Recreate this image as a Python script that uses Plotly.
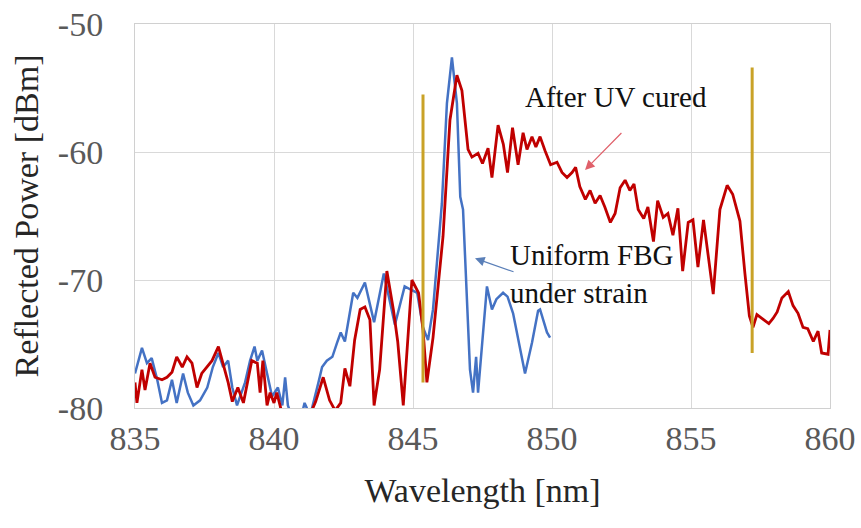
import plotly.graph_objects as go

# ---- data ----
red_wl = [835.0, 835.07, 835.25, 835.36, 835.54, 835.72, 835.97, 836.15, 836.33, 836.5,
          836.7, 836.87, 837.05, 837.23, 837.4, 837.6, 837.77, 838.0, 838.17, 838.35,
          838.5, 838.7, 838.9, 839.07, 839.2, 839.4, 839.5, 839.6, 839.75, 839.86,
          840.0, 840.1, 840.3, 840.8, 841.3, 841.5, 841.77, 842.0, 842.2, 842.4,
          842.55, 842.73, 842.9, 843.1, 843.27, 843.45, 843.6, 843.8, 844.06, 844.3,
          844.45, 844.65, 844.96, 845.2, 845.36, 845.5, 845.72, 846.08, 846.33, 846.58,
          846.76, 846.98, 847.12, 847.34, 847.5, 847.7, 847.84, 848.06, 848.25, 848.4,
          848.58, 848.78, 848.96, 849.1, 849.28, 849.42, 849.57, 849.75, 849.95, 850.18,
          850.36, 850.54, 850.72, 850.85, 851.0, 851.2, 851.37, 851.55, 851.73, 851.9,
          852.1, 852.27, 852.45, 852.63, 852.8, 852.95, 853.1, 853.3, 853.45, 853.65,
          853.8, 854.0, 854.17, 854.35, 854.53, 854.7, 854.9, 855.07, 855.25, 855.45,
          855.8, 856.04, 856.3, 856.5, 856.76, 856.94, 857.1, 857.23, 857.37, 857.55,
          857.8, 857.95, 858.1, 858.27, 858.5, 858.67, 858.85, 859.03, 859.2, 859.4,
          859.57, 859.7, 859.93, 860.0]
red_dbm = [-78.0, -79.6, -77.0, -78.6, -76.5, -77.6, -77.8, -77.6, -77.2, -76.0,
           -76.8, -76.0, -76.5, -78.4, -77.3, -76.8, -76.3, -75.2, -76.5, -78.0,
           -79.5, -78.4, -79.6, -77.6, -76.3, -76.5, -78.8, -76.3, -79.8, -78.8,
           -79.6, -78.8, -80.5, -81.0, -80.5, -79.5, -77.6, -79.4, -80.2, -79.6,
           -76.9, -78.3, -74.7, -72.3, -72.1, -73.1, -79.8, -77.0, -69.3, -72.4,
           -74.8, -79.8, -70.0, -71.0, -73.9, -78.0, -74.5, -66.6, -57.5, -54.0,
           -55.2, -59.8, -60.4, -60.1, -60.9, -59.7, -62.0, -57.9, -59.4, -61.6,
           -58.1, -61.0, -58.5, -59.8, -58.8, -59.6, -58.8, -59.9, -61.0, -60.8,
           -61.6, -62.0, -61.6, -61.2, -62.7, -63.7, -63.0, -64.0, -63.4, -64.3,
           -65.5, -64.8, -62.8, -62.2, -63.0, -62.5, -64.5, -65.2, -64.3, -67.0,
           -63.8, -65.1, -64.8, -66.5, -64.4, -69.3, -65.5, -65.3, -69.0, -65.3,
           -71.1, -64.5, -62.6, -63.3, -65.4, -69.5, -72.8, -73.7, -72.7, -73.0,
           -73.4, -73.0, -72.5, -71.4, -70.9, -72.0, -72.6, -73.7, -73.8, -74.8,
           -74.0, -75.7, -75.8, -73.9]

blue_wl = [835.0, 835.25, 835.43, 835.6, 835.8, 835.97, 836.15, 836.33, 836.5, 836.73,
           836.9, 837.1, 837.34, 837.6, 837.8, 838.0, 838.17, 838.35, 838.5, 838.67,
           838.96, 839.14, 839.3, 839.4, 839.57, 839.75, 839.93, 840.14, 840.3, 840.4,
           840.5, 840.7, 841.0, 841.1, 841.3, 841.6, 841.73, 841.9, 842.1, 842.27,
           842.4, 842.55, 842.85, 843.0, 843.27, 843.6, 843.95, 844.35, 844.7, 844.96,
           845.15, 845.36, 845.54, 845.72, 846.04, 846.22, 846.4, 846.58, 846.7, 846.8,
           846.94, 847.05, 847.16, 847.27, 847.34, 847.5, 847.66, 847.84, 848.0, 848.24,
           848.4, 848.6, 848.96, 849.03, 849.28, 849.5, 849.57, 849.82, 849.93]
blue_dbm = [-77.3, -75.3, -76.5, -76.1, -77.8, -79.6, -79.4, -77.8, -79.6, -77.3,
            -78.8, -79.8, -79.4, -78.4, -76.8, -75.7, -76.8, -76.3, -78.4, -79.8,
            -78.0, -76.3, -75.2, -76.3, -75.5, -77.3, -79.1, -78.4, -79.8, -77.6,
            -79.8, -81.0, -80.5, -79.6, -80.6, -78.0, -76.8, -76.3, -76.0, -74.9,
            -74.1, -74.8, -71.0, -71.4, -70.2, -73.3, -69.5, -73.5, -70.5, -70.8,
            -71.0, -73.7, -74.7, -72.3, -64.0, -56.2, -52.6, -56.2, -63.5, -64.5,
            -71.8, -77.0, -78.8, -76.0, -78.8, -74.5, -70.5, -72.3, -71.5, -71.0,
            -71.3, -72.6, -76.3, -77.3, -74.9, -72.4, -72.3, -74.1, -74.5]

marker_wl = [845.36, 857.2]
marker_top = [-55.5, -53.4]
marker_bottom = [-78.0, -75.7]

x_ticks = [835, 840, 845, 850, 855, 860]
x_tick_text = ["835", "840", "845", "850", "855", "860"]
y_ticks = [-80, -70, -60, -50]
y_tick_text = ["-80", "-70", "-60", "-50"]

FONT = "Liberation Serif, Times New Roman, serif"

fig = go.Figure()
fig.add_trace(go.Scatter(x=blue_wl, y=blue_dbm, mode="lines",
                         line=dict(color="#4472C4", width=2.5), name="Uniform FBG"))
fig.add_trace(go.Scatter(x=red_wl, y=red_dbm, mode="lines",
                         line=dict(color="#C00000", width=2.8), name="After UV cured"))

gx, gy = [], []
for w, t, b in zip(marker_wl, marker_top, marker_bottom):
    gx += [w, w, None]
    gy += [b, t, None]
fig.add_trace(go.Scatter(x=gx, y=gy, mode="lines",
                         line=dict(color="#C9A227", width=3), name="markers"))

fig.add_annotation(x=848.96, y=-55.7, xref="x", yref="y", text="After UV cured",
                   showarrow=False, xanchor="left", yanchor="middle",
                   font=dict(family=FONT, size=29, color="#111111"))
fig.add_annotation(x=851.19, y=-61.4, ax=852.55, ay=-58.4, xref="x", yref="y",
                   axref="x", ayref="y", text="", showarrow=True, arrowhead=2,
                   arrowsize=1.6, arrowwidth=1.2, arrowcolor="#E0606A")
fig.add_annotation(x=848.42, y=-69.5, xref="x", yref="y",
                   text="Uniform FBG<br>under strain",
                   showarrow=False, xanchor="left", yanchor="middle", align="left",
                   font=dict(family=FONT, size=29, color="#111111"))
fig.add_annotation(x=847.23, y=-68.3, ax=848.67, ay=-69.4, xref="x", yref="y",
                   axref="x", ayref="y", text="", showarrow=True, arrowhead=2,
                   arrowsize=1.6, arrowwidth=1.2, arrowcolor="#5A7FB8")

fig.update_layout(
    width=861, height=528,
    margin=dict(l=135, r=31, t=24, b=120, autoexpand=False),
    paper_bgcolor="white", plot_bgcolor="white",
    showlegend=False,
    font=dict(family=FONT, size=34, color="#595959"),
    xaxis=dict(range=[835, 860], tickvals=x_ticks, ticktext=x_tick_text,
               showgrid=True, automargin=False,
               gridcolor="#D9D9D9", gridwidth=1, zeroline=False,
               showline=True, linecolor="#D0D0D0", linewidth=1, mirror=True,
               ticks="", tickfont=dict(family=FONT, size=34, color="#595959"),
               title=dict(text="Wavelength [nm]", standoff=22,
                          font=dict(family=FONT, size=34, color="#262626"))),
    yaxis=dict(range=[-80, -50], tickvals=y_ticks, ticktext=y_tick_text,
               showgrid=True, automargin=False,
               gridcolor="#D9D9D9", gridwidth=1, zeroline=False,
               showline=True, linecolor="#D0D0D0", linewidth=1, mirror=True,
               ticks="", ticklabelstandoff=24,
               tickfont=dict(family=FONT, size=34, color="#595959"),
               title=dict(text="Reflected Power [dBm]", standoff=8,
                          font=dict(family=FONT, size=34, color="#262626"))),
)

fig.write_html("out.html", config={"displayModeBar": False})
